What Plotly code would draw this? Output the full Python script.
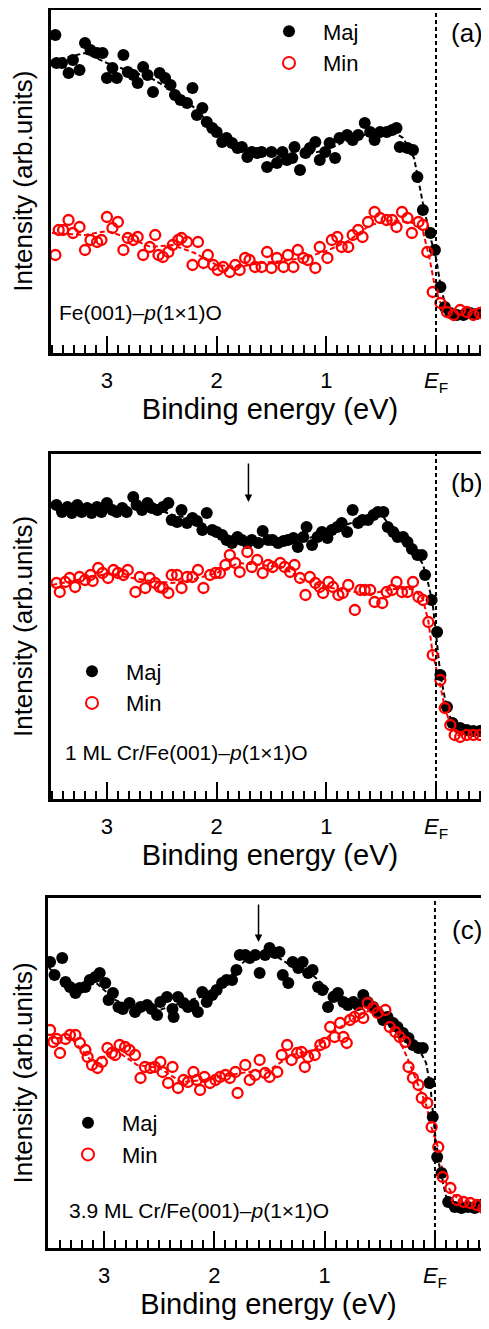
import plotly.graph_objects as go

# ---------------- Panel (a): Fe(001)-p(1x1)O ----------------
a_maj_E = [3.47, 3.46, 3.41, 3.35, 3.31, 3.25, 3.20, 3.15, 3.09, 3.04, 3.00, 2.95, 2.91, 2.85, 2.81, 2.76,
           2.72, 2.67, 2.63, 2.58, 2.52, 2.47, 2.42, 2.38, 2.33, 2.27, 2.22, 2.18, 2.13, 2.09, 2.04, 2.00,
           1.95, 1.91, 1.86, 1.81, 1.77, 1.72, 1.68, 1.63, 1.59, 1.54, 1.50, 1.45, 1.40, 1.36, 1.31, 1.29,
           1.24, 1.19, 1.15, 1.10, 1.06, 1.01, 0.97, 0.92, 0.88, 0.81, 0.76, 0.71, 0.65, 0.60, 0.56, 0.51,
           0.45, 0.40, 0.36, 0.33, 0.26, 0.21, 0.17, 0.12, 0.05, 0.01, -0.04, -0.08, -0.13, -0.19, -0.25,
           -0.31, -0.37, -0.43, -0.47]
a_maj_I = [318, 290, 290, 280, 293, 283, 310, 303, 300, 300, 275, 285, 275, 298, 281, 278,
           270, 286, 278, 261, 280, 275, 268, 258, 253, 250, 265, 238, 245, 231, 225, 221,
           211, 215, 210, 205, 206, 196, 201, 200, 201, 186, 201, 190, 201, 193, 195, 206,
           183, 200, 205, 211, 193, 201, 210, 195, 215, 218, 213, 218, 230, 221, 213, 221,
           221, 223, 225, 206, 205, 203, 176, 143, 120, 103, 66, 46, 40, 38, 38,
           40, 39, 41, 41]
a_min_E = [3.47, 3.44, 3.40, 3.35, 3.31, 3.25, 3.20, 3.15, 3.09, 3.05, 3.00, 2.95, 2.90, 2.85, 2.81, 2.76,
           2.72, 2.67, 2.61, 2.56, 2.53, 2.49, 2.44, 2.40, 2.35, 2.32, 2.27, 2.22, 2.17, 2.12, 2.08, 2.03,
           1.99, 1.94, 1.88, 1.83, 1.79, 1.74, 1.70, 1.65, 1.59, 1.54, 1.50, 1.45, 1.39, 1.35, 1.30, 1.26,
           1.21, 1.17, 1.10, 1.06, 0.99, 0.95, 0.90, 0.86, 0.80, 0.76, 0.71, 0.67, 0.62, 0.56, 0.51, 0.45,
           0.40, 0.36, 0.31, 0.26, 0.22, 0.16, 0.12, 0.08, 0.03, -0.04, -0.10, -0.16, -0.22, -0.28, -0.34,
           -0.40, -0.46]
a_min_I = [98, 123, 123, 133, 120, 126, 103, 113, 111, 113, 136, 125, 131, 103, 115, 113,
           116, 98, 106, 118, 98, 96, 101, 108, 113, 115, 111, 88, 111, 90, 98, 88,
           83, 86, 81, 88, 83, 95, 93, 86, 86, 101, 85, 95, 86, 98, 86, 103,
           95, 93, 85, 106, 95, 113, 116, 106, 106, 118, 123, 116, 131, 141, 135, 133,
           133, 126, 141, 135, 120, 131, 128, 101, 61, 50, 41, 38, 43, 41, 38,
           40, 40]
a_fit_E = [3.5, 3.2, 3.0, 2.8, 2.6, 2.4, 2.2, 2.0, 1.8, 1.6, 1.4, 1.2, 1.0, 0.8, 0.6, 0.4, 0.3, 0.2,
           0.12, 0.05, 0.0, -0.05, -0.1, -0.2, -0.5]
a_fit_maj = [292, 300, 290, 282, 275, 262, 245, 222, 205, 198, 196, 198, 203, 213, 220, 222, 215, 195,
             150, 115, 95, 62, 44, 38, 39]
a_fit_min_E = [3.5, 3.2, 3.0, 2.8, 2.6, 2.4, 2.2, 2.0, 1.8, 1.6, 1.4, 1.2, 1.0, 0.8, 0.6, 0.4, 0.2,
               0.12, 0.06, 0.02, -0.03, -0.1, -0.2, -0.5]
a_fit_min = [120, 118, 122, 115, 106, 108, 100, 88, 86, 90, 92, 95, 102, 112, 128, 133, 130,
             122, 95, 72, 52, 42, 40, 40]

# ---------------- Panel (b): 1 ML Cr/Fe(001)-p(1x1)O ----------------
b_maj_E = [3.46, 3.41, 3.36, 3.32, 3.27, 3.23, 3.18, 3.14, 3.09, 3.05, 3.00, 2.95, 2.91, 2.86, 2.82, 2.76,
           2.73, 2.68, 2.63, 2.59, 2.54, 2.49, 2.44, 2.41, 2.36, 2.32, 2.27, 2.22, 2.18, 2.13, 2.09, 2.04,
           2.00, 1.95, 1.91, 1.86, 1.81, 1.77, 1.72, 1.68, 1.62, 1.58, 1.53, 1.49, 1.44, 1.39, 1.35, 1.30,
           1.26, 1.21, 1.18, 1.13, 1.08, 1.04, 0.99, 0.95, 0.90, 0.86, 0.81, 0.76, 0.71, 0.67, 0.62, 0.57,
           0.53, 0.48, 0.44, 0.39, 0.35, 0.30, 0.26, 0.22, 0.17, 0.13, 0.10, 0.04, -0.01, -0.04, -0.10,
           -0.15, -0.22, -0.28, -0.34, -0.40, -0.46]
b_maj_I = [294, 287, 292, 286, 294, 287, 291, 286, 292, 287, 296, 289, 287, 291, 287, 302,
           294, 289, 296, 291, 289, 292, 296, 279, 277, 289, 276, 281, 278, 269, 286, 269,
           267, 264, 259, 256, 262, 259, 256, 259, 256, 268, 259, 259, 256, 258, 259, 261,
           252, 262, 272, 254, 262, 267, 261, 269, 272, 276, 267, 289, 276, 279, 279, 284,
           287, 287, 272, 267, 262, 262, 257, 250, 244, 244, 224, 199, 167, 124, 92,
           76, 71, 69, 68, 68, 68]
b_min_E = [3.46, 3.43, 3.38, 3.34, 3.29, 3.25, 3.20, 3.15, 3.13, 3.08, 3.04, 2.99, 2.94, 2.90, 2.85, 2.81,
           2.74, 2.70, 2.65, 2.61, 2.56, 2.52, 2.49, 2.44, 2.41, 2.36, 2.32, 2.27, 2.22, 2.17, 2.12, 2.06,
           2.01, 1.97, 1.92, 1.88, 1.83, 1.79, 1.72, 1.68, 1.63, 1.58, 1.53, 1.49, 1.42, 1.38, 1.33, 1.29,
           1.24, 1.19, 1.15, 1.10, 1.06, 1.03, 0.98, 0.94, 0.89, 0.85, 0.80, 0.74, 0.69, 0.65, 0.60, 0.56,
           0.49, 0.45, 0.40, 0.36, 0.31, 0.26, 0.21, 0.16, 0.12, 0.07, 0.03, -0.04, -0.08, -0.13, -0.17,
           -0.22, -0.28, -0.34, -0.40, -0.46]
b_min_I = [216, 207, 217, 221, 212, 222, 219, 224, 218, 231, 226, 221, 229, 226, 224, 229,
           207, 222, 211, 221, 216, 212, 211, 206, 224, 224, 211, 222, 222, 229, 211, 224,
           226, 226, 234, 244, 236, 227, 247, 232, 239, 226, 234, 232, 236, 232, 227, 234,
           221, 204, 222, 216, 212, 206, 217, 212, 204, 206, 214, 189, 209, 209, 209, 197,
           196, 207, 209, 217, 207, 207, 217, 202, 199, 177, 144, 119, 91, 74, 64,
           62, 64, 64, 64, 64]
b_fit_E = [3.5, 3.0, 2.6, 2.4, 2.2, 2.0, 1.8, 1.6, 1.4, 1.2, 1.0, 0.8, 0.6, 0.5, 0.4, 0.3, 0.2,
           0.12, 0.07, 0.03, 0.0, -0.04, -0.1, -0.15, -0.25, -0.5]
b_fit_maj = [291, 291, 292, 284, 280, 268, 260, 258, 258, 260, 265, 275, 282, 285, 270, 262, 248,
             235, 215, 195, 165, 124, 90, 76, 70, 68]
b_fit_min_E = [3.5, 3.0, 2.6, 2.4, 2.2, 2.0, 1.8, 1.6, 1.4, 1.2, 1.0, 0.8, 0.6, 0.4, 0.2,
               0.12, 0.07, 0.03, -0.03, -0.08, -0.13, -0.2, -0.5]
b_fit_min = [214, 225, 218, 216, 220, 226, 236, 234, 232, 218, 212, 208, 205, 210, 210,
             200, 178, 145, 118, 92, 74, 64, 64]

# ---------------- Panel (c): 3.9 ML Cr/Fe(001)-p(1x1)O ----------------
c_maj_E = [3.49, 3.45, 3.38, 3.35, 3.31, 3.26, 3.22, 3.17, 3.13, 3.08, 3.04, 2.99, 2.96, 2.92, 2.87, 2.83,
           2.77, 2.72, 2.67, 2.61, 2.57, 2.52, 2.49, 2.43, 2.38, 2.37, 2.33, 2.28, 2.24, 2.19, 2.15, 2.11,
           2.07, 2.02, 1.98, 1.93, 1.89, 1.84, 1.80, 1.77, 1.72, 1.68, 1.63, 1.59, 1.54, 1.50, 1.45, 1.41,
           1.38, 1.33, 1.29, 1.24, 1.20, 1.15, 1.11, 1.06, 1.02, 0.97, 0.92, 0.88, 0.83, 0.79, 0.74, 0.70,
           0.65, 0.61, 0.56, 0.52, 0.47, 0.43, 0.38, 0.34, 0.29, 0.24, 0.20, 0.15, 0.11, 0.05, 0.02, -0.02,
           -0.06, -0.12, -0.18, -0.24, -0.30, -0.36, -0.42, -0.46]
c_maj_I = [286, 273, 290, 266, 261, 255, 260, 261, 268, 271, 275, 265, 248, 255, 241, 239,
           245, 236, 241, 243, 239, 233, 246, 251, 239, 231, 251, 245, 241, 243, 236, 256,
           246, 253, 258, 265, 268, 268, 278, 293, 293, 290, 293, 275, 293, 300, 295, 296,
           273, 265, 286, 280, 286, 275, 278, 261, 258, 241, 251, 255, 246, 243, 246, 243,
           253, 246, 241, 236, 228, 231, 225, 221, 215, 210, 203, 200, 200, 165, 131, 91,
           75, 46, 41, 40, 41, 40, 43, 46]
c_min_E = [3.49, 3.46, 3.43, 3.40, 3.35, 3.31, 3.26, 3.22, 3.17, 3.15, 3.11, 3.06, 3.02, 2.97, 2.93, 2.90,
           2.86, 2.81, 2.77, 2.72, 2.67, 2.63, 2.58, 2.54, 2.49, 2.47, 2.42, 2.38, 2.33, 2.28, 2.24, 2.19,
           2.16, 2.13, 2.09, 2.04, 1.99, 1.95, 1.90, 1.86, 1.81, 1.79, 1.72, 1.68, 1.63, 1.59, 1.54, 1.50,
           1.43, 1.39, 1.34, 1.30, 1.25, 1.21, 1.18, 1.15, 1.09, 1.04, 1.00, 0.95, 0.91, 0.86, 0.83, 0.80,
           0.77, 0.73, 0.68, 0.65, 0.61, 0.56, 0.52, 0.45, 0.41, 0.36, 0.32, 0.27, 0.24, 0.20, 0.15, 0.12,
           0.07, 0.03, -0.03, -0.07, -0.14, -0.20, -0.26, -0.32, -0.38, -0.44, -0.48]
c_min_I = [218, 206, 209, 195, 209, 213, 213, 205, 198, 191, 183, 180, 186, 200, 195, 193,
           203, 201, 198, 193, 170, 181, 180, 181, 186, 176, 165, 181, 160, 168, 166, 176,
           168, 158, 171, 165, 168, 171, 173, 170, 176, 155, 183, 168, 173, 188, 175, 171,
           176, 193, 203, 188, 195, 196, 181, 191, 193, 203, 205, 221, 211, 225, 211, 205,
           228, 231, 235, 230, 245, 240, 235, 238, 221, 216, 211, 206, 181, 170, 163, 150,
           145, 121, 101, 71, 60, 48, 46, 45, 43, 40, 41]
c_fit_E = [3.5, 3.3, 3.1, 2.9, 2.7, 2.5, 2.3, 2.1, 1.9, 1.7, 1.5, 1.3, 1.1, 0.9, 0.7, 0.5, 0.3,
           0.15, 0.08, 0.04, 0.0, -0.04, -0.1, -0.2, -0.5]
c_fit_maj = [280, 262, 268, 248, 240, 238, 245, 252, 267, 290, 296, 282, 272, 252, 246, 232, 217,
             200, 185, 160, 115, 82, 52, 42, 42]
c_fit_min_E = [3.5, 3.3, 3.1, 2.9, 2.7, 2.5, 2.3, 2.1, 1.9, 1.7, 1.5, 1.3, 1.1, 0.9, 0.7, 0.55, 0.45,
               0.35, 0.25, 0.15, 0.08, 0.03, -0.03, -0.08, -0.15, -0.25, -0.5]
c_fit_min = [210, 210, 185, 198, 183, 180, 166, 168, 172, 176, 178, 193, 198, 218, 232, 240, 235,
             215, 190, 163, 143, 120, 100, 70, 55, 46, 41]

# ---------------- text ----------------
panel_letters = ["(a)", "(b)", "(c)"]
sample_labels = ["Fe(001)–<i>p</i>(1×1)O",
                 "1 ML Cr/Fe(001)–<i>p</i>(1×1)O",
                 "3.9 ML Cr/Fe(001)–<i>p</i>(1×1)O"]
tick_vals = [3, 2, 1, 0]
tick_text = ["3", "2", "1", "<i>E</i><sub>F</sub>"]
x_title = "Binding energy (eV)"
y_title = "Intensity (arb.units)"

FONT = "Liberation Sans, Arial, sans-serif"
OFF = 8                      # page body margin of the browser
W, H = 489 - OFF, 1329 - OFF


def fx(px):
    return (px - OFF) / W


def fy(py):
    return 1 - (py - OFF) / H


panels = [
    dict(maj=(a_maj_E, a_maj_I), mn=(a_min_E, a_min_I), fmaj=(a_fit_E, a_fit_maj), fmin=(a_fit_min_E, a_fit_min),
         top=9.5, bot=353, left=51, xr=[3.51, -0.483],
         leg=(289, 47.5), letter_y=33, label=(57, 312), arrow=None),
    dict(maj=(b_maj_E, b_maj_I), mn=(b_min_E, b_min_I), fmaj=(b_fit_E, b_fit_maj), fmin=(b_fit_min_E, b_fit_min),
         top=454, bot=799, left=51, xr=[3.51, -0.483],
         leg=(92, 687.5), letter_y=483, label=(63, 752), arrow=(1.71, 297, -40)),
    dict(maj=(c_maj_E, c_maj_I), mn=(c_min_E, c_min_I), fmaj=(c_fit_E, c_fit_maj), fmin=(c_fit_min_E, c_fit_min),
         top=898, bot=1248, left=48, xr=[3.509, -0.49],
         leg=(88, 1139), letter_y=930, label=(67, 1210), arrow=(1.60, 306, -39)),
]

ITEMW = 58

fig = go.Figure()
layout = dict(width=W, height=H, margin=dict(l=0, r=0, t=0, b=0),
              paper_bgcolor="white", plot_bgcolor="white",
              font=dict(family=FONT, color="black"), showlegend=True)
annotations = []
shapes = []

for i, p in enumerate(panels):
    n = "" if i == 0 else str(i + 1)
    xa, ya = "x" + n, "y" + n
    lg = "legend" + n
    fig.add_trace(go.Scatter(x=p["fmaj"][0], y=p["fmaj"][1], mode="lines", xaxis=xa, yaxis=ya,
                             line=dict(color="black", width=2, dash="5px,3px"), showlegend=False,
                             hoverinfo="skip"))
    fig.add_trace(go.Scatter(x=p["fmin"][0], y=p["fmin"][1], mode="lines", xaxis=xa, yaxis=ya,
                             line=dict(color="red", width=2, dash="5px,3px"), showlegend=False,
                             hoverinfo="skip"))
    fig.add_trace(go.Scatter(x=p["maj"][0], y=p["maj"][1], mode="markers", name="Maj", xaxis=xa, yaxis=ya,
                             marker=dict(symbol="circle", size=12, color="black"), legend=lg))
    fig.add_trace(go.Scatter(x=p["mn"][0], y=p["mn"][1], mode="markers", name="Min", xaxis=xa, yaxis=ya,
                             marker=dict(symbol="circle-open", size=10, color="red",
                                         line=dict(width=2.3, color="red")), legend=lg))

    ydom = [fy(p["bot"]), min(1.0, fy(p["top"]))]
    layout["xaxis" + n] = dict(
        domain=[fx(p["left"]), 1], anchor=ya, range=p["xr"],
        tickmode="array", tickvals=tick_vals, ticktext=tick_text,
        ticks="inside", ticklen=17, tickwidth=2, tickcolor="black",
        minor=dict(ticks="inside", ticklen=8, tickwidth=2, tickcolor="black", tickmode="linear",
                   tick0=0, dtick=0.1),
        showline=True, linewidth=2.5, linecolor="black", mirror=True,
        showgrid=False, zeroline=False, automargin=False,
        tickfont=dict(size=22), ticklabelstandoff=6,
        title=dict(text=x_title, font=dict(size=29), standoff=2),
    )
    layout["yaxis" + n] = dict(
        domain=ydom, anchor=xa, range=[0, p["bot"] - p["top"]],
        showticklabels=False, ticks="", showline=True, linewidth=2.5, linecolor="black",
        showgrid=False, zeroline=False, automargin=False,
        title=dict(text=y_title, font=dict(size=26), standoff=12),
    )
    layout[lg] = dict(x=fx(p["leg"][0] - ITEMW / 2 - 5), y=fy(p["leg"][1]), xanchor="left", yanchor="middle",
                      bgcolor="rgba(0,0,0,0)", font=dict(size=22), itemwidth=ITEMW, tracegroupgap=0,
                      itemsizing="constant")
    shapes.append(dict(type="line", xref=xa, yref=ya + " domain", x0=0, x1=0, y0=0, y1=1,
                       line=dict(color="black", width=2, dash="4px,3px")))
    annotations.append(dict(text=panel_letters[i], xref="paper", yref="paper", x=fx(467),
                            y=fy(p["letter_y"]), xanchor="center", yanchor="middle",
                            showarrow=False, font=dict(size=26)))
    annotations.append(dict(text=sample_labels[i], xref="paper", yref="paper", x=fx(p["label"][0]),
                            y=fy(p["label"][1]), xanchor="left", yanchor="middle",
                            showarrow=False, font=dict(size=21)))
    if p["arrow"]:
        ex, ey, ay = p["arrow"]
        annotations.append(dict(text="", x=ex, y=ey, xref=xa, yref=ya, showarrow=True, ax=0, ay=ay,
                                arrowhead=2, arrowsize=1, arrowwidth=1.5, arrowcolor="black"))

layout["annotations"] = annotations
layout["shapes"] = shapes
fig.update_layout(**layout)
fig.write_html("out.html")
